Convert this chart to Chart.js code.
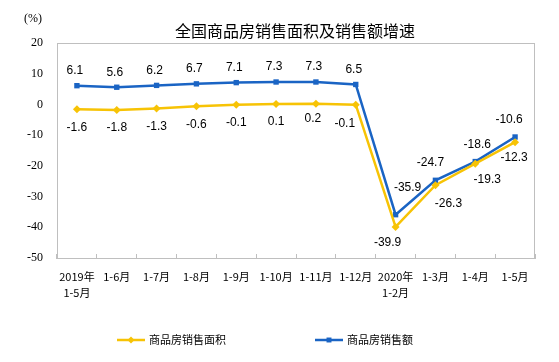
<!DOCTYPE html>
<html>
<head>
<meta charset="utf-8">
<script src="https://cdn.jsdelivr.net/npm/chart.js@4/dist/chart.umd.min.js"></script>
<style>
  html, body { margin: 0; padding: 0; background: #fff; }
  #wrap { width: 559px; height: 362px; position: relative; }
</style>
</head>
<body>
<div id="wrap"><canvas id="salesChart" width="559" height="362"></canvas></div>
<script>
// data
const periods = [["2019年", "1-5月"], "1-6月", "1-7月", "1-8月", "1-9月", "1-10月", "1-11月", "1-12月", ["2020年", "1-2月"], "1-3月", "1-4月", "1-5月"];
const areaGrowth = [-1.6, -1.8, -1.3, -0.6, -0.1, 0.1, 0.2, -0.1, -39.9, -26.3, -19.3, -12.3];
const amountGrowth = [6.1, 5.6, 6.2, 6.7, 7.1, 7.3, 7.3, 6.5, -35.9, -24.7, -18.6, -10.6];
const yTicks = [20, 10, 0, -10, -20, -30, -40, -50];
const seriesNames = ["商品房销售面积", "商品房销售额"];

const YELLOW = "#F7C305";
const BLUE = "#1A64C4";

// label offsets (dx, dy) relative to the point
const labelOffsets = {
    0: { def: [0, 18], 6: [-3, 15], 7: [-11, 19], 8: [-8, 16], 9: [13, 18], 10: [12, 16], 11: [-1, 15] },
    1: { def: [-2, -15], 8: [12, -27], 9: [-5, -18], 10: [2, -17], 11: [-6, -17] }
};

const extras = {
    id: "extras",
    afterDatasetsDraw(chart) {
        const ctx = chart.ctx;
        ctx.save();
        // data labels
        ctx.font = "12px 'Liberation Sans', Arial, sans-serif";
        ctx.fillStyle = "#000";
        ctx.textAlign = "center";
        ctx.textBaseline = "middle";
        chart.data.datasets.forEach((ds, di) => {
            const meta = chart.getDatasetMeta(di);
            meta.data.forEach((pt, i) => {
                const off = labelOffsets[di][i] || labelOffsets[di].def;
                ctx.fillText(ds.data[i].toFixed(1), pt.x + off[0], pt.y + off[1]);
            });
        });

        // title
        ctx.font = "16px 'Noto Sans CJK SC', sans-serif";
        ctx.fillText("全国商品房销售面积及销售额增速", 295, 31);

        // unit
        ctx.font = "12px 'Liberation Serif', serif";
        ctx.fillText("(%)", 33, 19);

        // legend
        const items = [
            { x: 117, color: YELLOW, style: "rectRot", text: seriesNames[0] },
            { x: 315, color: BLUE, style: "rect", text: seriesNames[1] }
        ];
        const ly = 340;
        items.forEach(it => {
            ctx.strokeStyle = it.color;
            ctx.lineWidth = 2.5;
            ctx.beginPath();
            ctx.moveTo(it.x, ly);
            ctx.lineTo(it.x + 28, ly);
            ctx.stroke();
            ctx.fillStyle = it.color;
            Chart.helpers.drawPoint(ctx, { pointStyle: it.style, radius: 3.5, borderWidth: 0 }, it.x + 14, ly);
            ctx.fillStyle = "#000";
            ctx.textAlign = "left";
            ctx.font = "11px 'Noto Sans CJK SC', sans-serif";
            ctx.fillText(it.text, it.x + 32, ly);
        });

        // frame around plot area
        const a = chart.chartArea;
        ctx.strokeStyle = "#BFBFBF";
        ctx.lineWidth = 1;
        ctx.strokeRect(a.left + 0.5, a.top + 0.5, a.right - a.left - 1, a.bottom - a.top);
        ctx.restore();
    }
};

const ctx = document.getElementById("salesChart").getContext("2d");
new Chart(ctx, {
    type: "line",
    data: {
        labels: periods,
        datasets: [{
            label: seriesNames[0],
            data: areaGrowth,
            borderColor: YELLOW,
            backgroundColor: YELLOW,
            borderWidth: 2.5,
            pointStyle: "rectRot",
            pointRadius: 4,
            pointBorderWidth: 0,
            tension: 0
        }, {
            label: seriesNames[1],
            data: amountGrowth,
            borderColor: BLUE,
            backgroundColor: BLUE,
            borderWidth: 2.5,
            pointStyle: "rect",
            pointRadius: 3.8,
            pointBorderWidth: 0,
            tension: 0
        }]
    },
    options: {
        responsive: false,
        animation: false,
        events: [],
        layout: { padding: { left: 0, top: 43, right: 24, bottom: 64 } },
        plugins: {
            legend: { display: false },
            title: { display: false },
            tooltip: { enabled: false }
        },
        scales: {
            x: {
                offset: true,
                grid: {
                    display: true,
                    drawOnChartArea: false,
                    drawTicks: true,
                    tickLength: -4,
                    offset: true,
                    color: "#BFBFBF"
                },
                border: { color: "#BFBFBF" },
                ticks: {
                    color: "#000",
                    font: { family: "'Noto Sans CJK SC', sans-serif", size: 11, lineHeight: 1.45 },
                    padding: 15,
                    maxRotation: 0,
                    autoSkip: false
                },
                afterFit(scale) { scale.height = 40; }
            },
            y: {
                min: -50,
                max: 20,
                afterBuildTicks(scale) { scale.ticks = yTicks.map(v => ({ value: v })); },
                grid: { display: false, drawTicks: false },
                border: { color: "#BFBFBF" },
                ticks: {
                    color: "#000",
                    font: { family: "'Liberation Serif', serif", size: 12 },
                    padding: 14
                },
                afterFit(scale) { scale.width = 57; }
            }
        }
    },
    plugins: [extras]
});
</script>
</body>
</html>
